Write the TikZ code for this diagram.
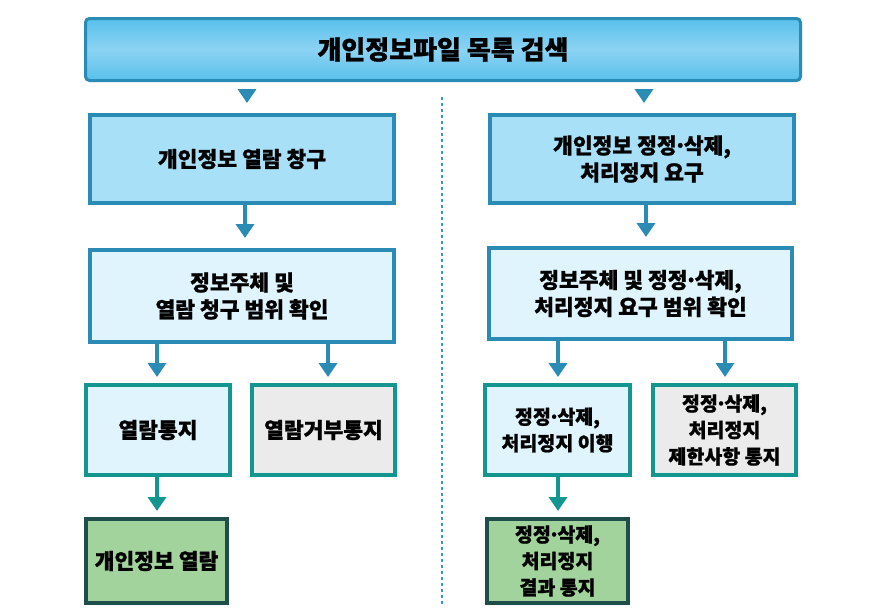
\documentclass[tikz,border=0pt]{standalone}
\usepackage{fontspec}
\setmainfont{Noto Sans CJK KR}[BoldFeatures={FakeBold=1}]
\usetikzlibrary{arrows.meta,calc}
\newcommand\mdt{\kern-0.14em·\kern-0.14em}
\definecolor{bblue}{HTML}{2A8BB5}
\definecolor{tealb}{HTML}{13968F}
\definecolor{darkg}{HTML}{1E4D4A}
\definecolor{fillA}{HTML}{A8E1F7}
\definecolor{fillB}{HTML}{DFF4FC}
\definecolor{fillG}{HTML}{EBEBEB}
\definecolor{fillGr}{HTML}{A3D39C}
\definecolor{topO}{HTML}{58C0EB}
\definecolor{topM}{HTML}{8CD3F3}
\definecolor{dashc}{HTML}{3A95C0}
\begin{document}
\begin{tikzpicture}[x=1pt,y=-1pt,
  box/.style={draw, line width=4pt, align=center, inner sep=0pt, font=\bfseries\fontsize{21.5}{27}\selectfont},
  lvA/.style={box, draw=bblue, fill=fillA},
  lvB/.style={box, draw=bblue, fill=fillB},
  lvC/.style={box, draw=tealb, fill=fillB},
  lvD/.style={box, draw=tealb, fill=fillG},
  lvE/.style={box, draw=darkg, fill=fillGr},
  small/.style={font=\bfseries\fontsize{19.5}{26.5}\selectfont},
  arr/.style={line width=3.5pt, -{Triangle[width=18pt,length=14pt]}},
  barr/.style={arr, draw=bblue, fill=bblue},
  tarr/.style={arr, draw=tealb, fill=tealb}]
\useasboundingbox (0,0) rectangle (884,613);
% top box
\node[draw=bblue, line width=3pt, rounded corners=4pt, top color=topO, bottom color=topO, middle color=topM,
  minimum width=715pt, minimum height=62pt, inner sep=0pt, font=\bfseries\fontsize{26}{28}\selectfont]
  (top) at (443,49.5) {개인정보파일 목록 검색};
% left column
\node[lvA, minimum width=304pt, minimum height=88pt] (L1) at (242,159) {개인정보 열람 창구};
\node[lvB, minimum width=304pt, minimum height=92pt] (L2) at (242,296) {정보주체 및\\열람 청구 범위 확인};
\node[lvC, minimum width=144pt, minimum height=90pt] (L3a) at (158,430) {열람통지};
\node[lvD, minimum width=143pt, minimum height=90pt] (L3b) at (323.5,430) {열람거부통지};
\node[lvE, minimum width=141pt, minimum height=84pt] (L4) at (156.5,561) {개인정보 열람};
% right column
\node[lvA, minimum width=304pt, minimum height=88pt] (R1) at (642,159) {개인정보 정정\mdt 삭제,\\처리정지 요구};
\node[lvB, minimum width=303pt, minimum height=91pt] (R2) at (640.5,293.5) {정보주체 및 정정\mdt 삭제,\\처리정지 요구 범위 확인};
\node[lvC, small, minimum width=145pt, minimum height=90pt] (R3a) at (557.5,430) {정정\mdt 삭제,\\처리정지 이행};
\node[lvD, small, minimum width=143pt, minimum height=90pt] (R3b) at (724.5,430) {정정\mdt 삭제,\\처리정지\\제한사항 통지};
\node[lvE, small, minimum width=141pt, minimum height=84pt] (R4) at (557.5,561) {정정\mdt 삭제,\\처리정지\\결과 통지};
% dotted separator
\coordinate (dtop) at (442,97);
\coordinate (dbot) at (442,605);
\draw[dashc, line width=2.5pt, dash pattern=on 3pt off 3pt] (dtop) -- (dbot);
% connectors
\coordinate (xa) at (247,0);
\coordinate (xb) at (644,0);
\coordinate (xc) at (245,0);
\coordinate (xd) at (646,0);
\coordinate (xe) at (157,0);
\coordinate (xf) at (328,0);
\coordinate (xg) at (558,0);
\coordinate (xh) at (725,0);
\draw[barr, shorten <=8pt, shorten >=10pt] (top.south -| xa) -- (L1.north -| xa);
\draw[barr, shorten <=8pt, shorten >=10pt] (top.south -| xb) -- (R1.north -| xb);
\draw[barr, shorten <=-2pt, shorten >=10pt] (L1.south -| xc) -- (L2.north -| xc);
\draw[barr, shorten <=-2pt, shorten >=9pt] (R1.south -| xd) -- (R2.north -| xd);
\draw[barr, shorten <=-2pt, shorten >=6pt] (L2.south -| xe) -- (L3a.north -| xe);
\draw[barr, shorten <=-2pt, shorten >=6pt] (L2.south -| xf) -- (L3b.north -| xf);
\draw[barr, shorten <=-2pt, shorten >=6pt] (R2.south -| xg) -- (R3a.north -| xg);
\draw[barr, shorten <=-2pt, shorten >=6pt] (R2.south -| xh) -- (R3b.north -| xh);
\draw[tarr, shorten <=-2pt, shorten >=6pt] (L3a.south -| xe) -- (L4.north -| xe);
\draw[tarr, shorten <=-2pt, shorten >=6pt] (R3a.south -| xg) -- (R4.north -| xg);
\end{tikzpicture}
\end{document}
